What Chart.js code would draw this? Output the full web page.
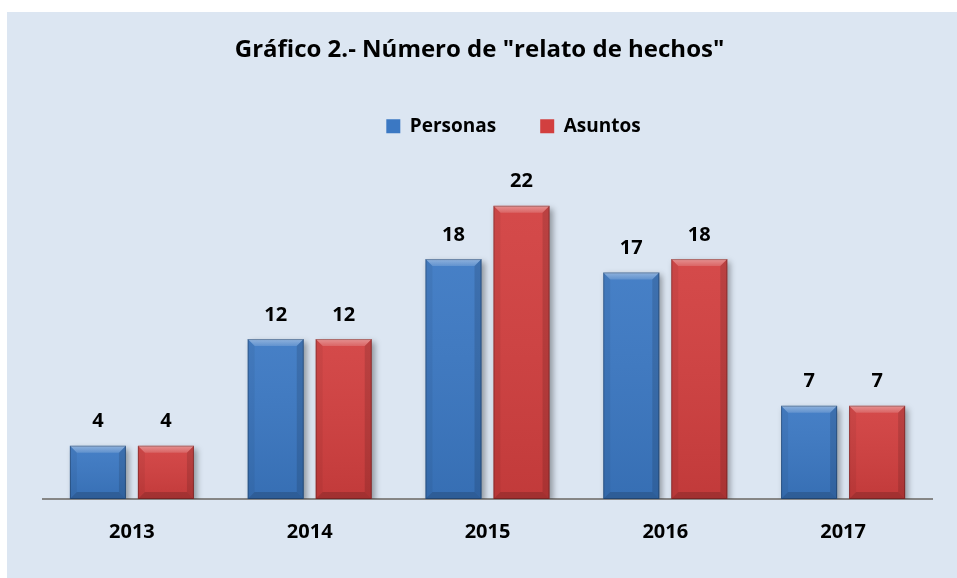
<!DOCTYPE html>
<html>
<head>
<meta charset="utf-8">
<script src="https://cdn.jsdelivr.net/npm/chart.js@4/dist/chart.umd.min.js"></script>
<style>
  html, body { margin: 0; padding: 0; background: #fff; }
  #wrap { width: 957px; height: 578px; }
</style>
</head>
<body>
<div id="wrap"><canvas id="chart" width="957" height="578"></canvas></div>
<script>
const years = ['2013', '2014', '2015', '2016', '2017'];
const personas = [4, 12, 18, 17, 7];
const asuntos = [4, 12, 22, 18, 7];
const seriesNames = ['Personas', 'Asuntos'];
const colors = ['#3b78c3', '#d23f3f'];

const FONT = '"Open Sans", Lato, sans-serif';

// light blue panel behind everything
const panel = {
  id: 'panel',
  beforeDraw(chart) {
    const c = chart.ctx;
    c.save();
    c.fillStyle = '#fff';
    c.fillRect(0, 0, chart.width, chart.height);
    c.fillStyle = '#dce6f2';
    c.fillRect(7, 12, chart.width - 7, chart.height - 12);
    c.restore();
  }
};

// drop shadow under bars + bevelled edges on top of them
const bevel = {
  id: 'bevel',
  beforeDatasetDraw(chart) {
    const c = chart.ctx;
    c.save();
    c.shadowColor = 'rgba(0,0,0,0.35)';
    c.shadowBlur = 6;
    c.shadowOffsetX = 3;
    c.shadowOffsetY = 3;
  },
  afterDatasetDraw(chart, args) {
    const c = chart.ctx;
    c.restore();
    const poly = (pts, fill) => {
      c.beginPath();
      c.moveTo(pts[0][0], pts[0][1]);
      pts.slice(1).forEach(p => c.lineTo(p[0], p[1]));
      c.closePath();
      c.fillStyle = fill;
      c.fill();
    };
    args.meta.data.forEach(bar => {
      const {x, y, base, width} = bar.getProps(['x', 'y', 'base', 'width'], true);
      const L = x - width / 2, R = x + width / 2, T = y, B = base, b = 7;
      c.save();
      const g = c.createLinearGradient(0, T, 0, B);
      g.addColorStop(0, 'rgba(255,255,255,0.06)');
      g.addColorStop(1, 'rgba(0,0,0,0.08)');
      c.fillStyle = g;
      c.fillRect(L, T, width, B - T);
      const tg = c.createLinearGradient(0, T, 0, T + b);
      tg.addColorStop(0, 'rgba(255,255,255,0.4)');
      tg.addColorStop(1, 'rgba(255,255,255,0.15)');
      poly([[L, T], [R, T], [R - b, T + b], [L + b, T + b]], tg);
      poly([[L, T], [L + b, T + b], [L + b, B - b], [L, B]], 'rgba(0,0,0,0.05)');
      poly([[R, T], [R - b, T + b], [R - b, B - b], [R, B]], 'rgba(0,0,0,0.12)');
      poly([[L, B], [L + b, B - b], [R - b, B - b], [R, B]], 'rgba(0,0,0,0.16)');
      c.strokeStyle = 'rgba(0,0,0,0.25)';
      c.lineWidth = 1;
      c.strokeRect(L + 0.5, T + 0.5, width - 1, B - T - 1);
      c.restore();
    });
  }
};

// value labels above the bars
const valueLabels = {
  id: 'valueLabels',
  afterDatasetsDraw(chart) {
    const c = chart.ctx;
    c.save();
    c.font = 'bold 20px ' + FONT;
    c.fillStyle = '#000';
    c.textAlign = 'center';
    c.textBaseline = 'middle';
    chart.data.datasets.forEach((ds, i) => {
      chart.getDatasetMeta(i).data.forEach((bar, j) => {
        c.fillText(ds.data[j], bar.x, bar.y - 24);
      });
    });
    c.restore();
  }
};

// Excel puts the legend a bit right of centre
const legendShift = {
  id: 'legendShift',
  afterLayout(chart) {
    chart.legend.left += 34;
    chart.legend.right += 34;
  }
};

new Chart(document.getElementById('chart'), {
  type: 'bar',
  data: {
    labels: years,
    datasets: [
      { label: seriesNames[0], data: personas, backgroundColor: colors[0] },
      { label: seriesNames[1], data: asuntos, backgroundColor: colors[1] }
    ]
  },
  options: {
    responsive: false,
    animation: false,
    layout: { padding: { left: 27, right: 25, top: 0, bottom: 13 } },
    categoryPercentage: 0.765,
    barPercentage: 0.824,
    plugins: {
      title: {
        display: true,
        text: 'Gráfico 2.- Número de "relato de hechos"',
        color: '#000',
        font: { family: FONT, size: 24, weight: 'bold' },
        padding: { top: 36, bottom: 8 }
      },
      legend: {
        display: true,
        labels: {
          color: '#000',
          font: { family: FONT, size: 19, weight: 'bold' },
          boxWidth: 14,
          boxHeight: 14,
          padding: 44
        }
      },
      tooltip: { enabled: false }
    },
    scales: {
      x: {
        grid: { display: false, drawTicks: false },
        border: { display: true, color: '#868686', width: 2 },
        ticks: { color: '#000', font: { family: FONT, size: 20, weight: 'bold' }, padding: 21 }
      },
      y: {
        min: 0,
        max: 26.5,
        grid: { display: false, drawTicks: false },
        border: { display: false },
        ticks: { display: false },
        afterFit(scale) { scale.width = 16; }
      }
    }
  },
  plugins: [panel, bevel, valueLabels, legendShift]
});
</script>
</body>
</html>
